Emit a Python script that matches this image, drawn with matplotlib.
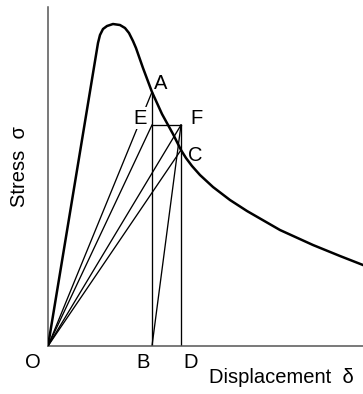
import numpy as np
from matplotlib import pyplot as plt

plt.rcParams["font.family"] = ["Liberation Sans", "DejaVu Sans"]

# stress-displacement curve (arbitrary units)
curve_x = [0.00, 0.50, 0.52, 0.55, 0.59, 0.65, 0.72, 0.77, 0.81, 0.85, 0.88,
           0.95, 1.04, 1.14, 1.25, 1.33, 1.38, 1.44, 1.52, 1.65, 1.82, 1.99,
           2.32, 2.65, 2.92, 3.15]
curve_y = [0.00, 3.03, 3.11, 3.17, 3.20, 3.22, 3.21, 3.18, 3.13, 3.05, 2.98,
           2.78, 2.54, 2.32, 2.12, 1.96, 1.88, 1.80, 1.71, 1.59, 1.46, 1.35,
           1.16, 1.01, 0.90, 0.81]

# named points
points = {
    "O": (0.00, 0.00),
    "A": (1.04, 2.54),
    "E": (1.04, 2.21),
    "F": (1.33, 2.21),
    "C": (1.33, 1.96),
    "B": (1.04, 0.00),
    "D": (1.33, 0.00),
}

# thin construction segments
segments = [("O", "A"), ("O", "E"), ("O", "F"), ("O", "C"), ("B", "F"),
            ("B", "A"), ("D", "F"), ("E", "F")]

# label positions
label_pos = {
    "A": (1.13, 2.63),
    "E": (0.92, 2.28),
    "F": (1.49, 2.28),
    "C": (1.47, 1.91),
    "O": (-0.15, -0.16),
    "B": (0.95, -0.16),
    "D": (1.43, -0.16),
}

fig = plt.figure(figsize=(3.63, 3.94), dpi=100)
ax = fig.add_axes([0.1322, 0.1218, 0.8678, 0.8604])

for p, q in segments:
    x0, y0 = points[p]
    x1, y1 = points[q]
    ax.plot([x0, x1], [y0, y1], color="black", lw=0.95, zorder=2)

ax.plot(curve_x, curve_y, color="black", lw=1.8, zorder=3,
        solid_joinstyle="round")

for name, (lx, ly) in label_pos.items():
    bbox = None
    if name == "E":
        bbox = dict(facecolor="white", edgecolor="none", pad=1.0)
    ax.text(lx, ly, name, fontsize=14.5, ha="center", va="center",
            clip_on=False, zorder=5, bbox=bbox)

ax.text(2.33, -0.31, "Displacement  δ", fontsize=14.5, ha="center",
        va="center", clip_on=False)
ax.text(-0.28, 1.79, "Stress  σ", fontsize=14.5, ha="center", va="center",
        rotation=90, clip_on=False)

ax.set_xlim(0, 3.15)
ax.set_ylim(0, 3.39)
ax.set_xticks([])
ax.set_yticks([])
for side in ("top", "right"):
    ax.spines[side].set_visible(False)
for side in ("left", "bottom"):
    ax.spines[side].set_color("#555555")
    ax.spines[side].set_linewidth(1.1)

fig.savefig("out.png", dpi=100)
plt.close(fig)
